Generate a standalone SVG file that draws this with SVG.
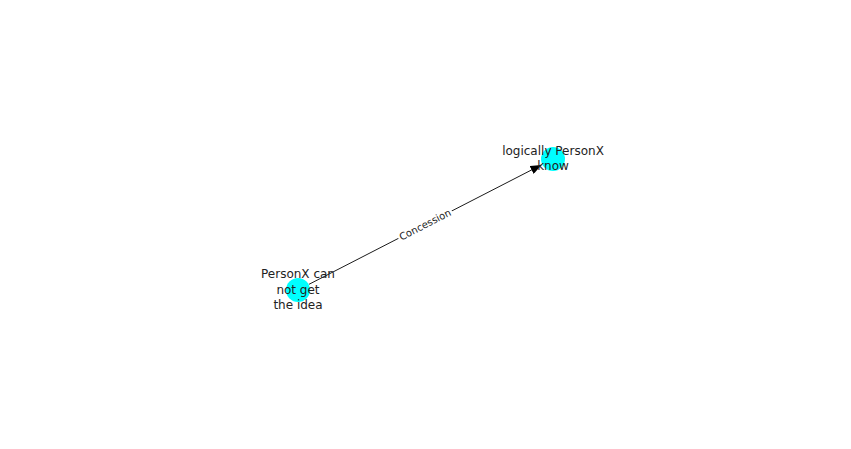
<svg xmlns="http://www.w3.org/2000/svg" width="851" height="449" viewBox="0 0 851 449">
<style>
.node{fill:#00ffff;stroke:none}
.lbl{font-family:"DejaVu Sans",sans-serif;font-size:12px;fill:#222;text-anchor:middle}
.elbl{font-family:"DejaVu Sans",sans-serif;font-size:10px;fill:#222;text-anchor:middle}
.edge{stroke:#000;stroke-width:0.9;fill:none}
</style>
<defs>
<marker id="arr" markerWidth="11" markerHeight="9" refX="11" refY="4.5" orient="auto" markerUnits="userSpaceOnUse">
<path d="M0,0 L11,4.5 L0,9 Z" fill="#000"/>
</marker>
</defs>
<rect width="851" height="449" fill="#fff"/>
<g id="edges">
<line class="edge" x1="309" y1="284.3" x2="541.4" y2="164.9" marker-end="url(#arr)"/>
<g transform="translate(425,224.5) rotate(-27.2)">
<rect x="-30" y="-6.5" width="60" height="13" fill="#fff"/>
<text class="elbl" x="0" y="3.6">Concession</text>
</g>
</g>
<g id="node-top">
<circle class="node" cx="553" cy="159" r="12"/>
<text class="lbl" x="553" y="155">logically PersonX</text>
<text class="lbl" x="553" y="170">know</text>
</g>
<g id="node-bottom">
<circle class="node" cx="298" cy="290" r="12"/>
<text class="lbl" x="298" y="278">PersonX can</text>
<text class="lbl" x="298" y="294">not get</text>
<text class="lbl" x="298" y="309">the idea</text>
</g>
</svg>
